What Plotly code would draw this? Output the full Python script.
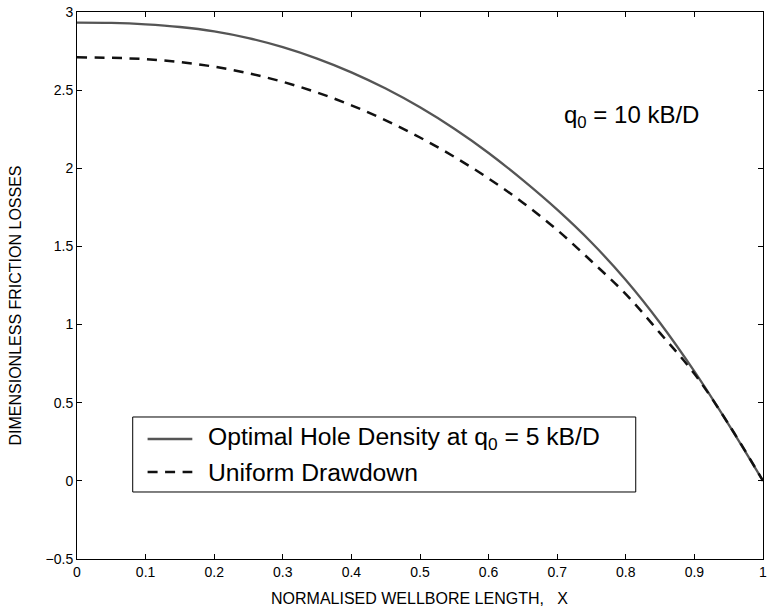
import plotly.graph_objects as go

# Normalised wellbore length
x_vals = [0, 0.05, 0.1, 0.15, 0.2, 0.25, 0.3, 0.35, 0.4, 0.45, 0.5,
          0.55, 0.6, 0.65, 0.7, 0.75, 0.8, 0.85, 0.9, 0.95, 1.0]
# Optimal hole density at q0 = 5 kB/D
optimal = [2.932, 2.930, 2.921, 2.904, 2.876, 2.833, 2.775, 2.702, 2.614, 2.510, 2.390,
           2.253, 2.098, 1.924, 1.735, 1.525, 1.285, 1.010, 0.700, 0.360, 0.0]
# Uniform drawdown
uniform = [2.710, 2.707, 2.698, 2.680, 2.650, 2.608, 2.553, 2.485, 2.403, 2.307, 2.197,
           2.073, 1.935, 1.780, 1.605, 1.405, 1.195, 0.945, 0.685, 0.362, 0.0]

series_names = ["Optimal Hole Density at q<sub>0</sub> = 5 kB/D", "Uniform Drawdown"]
x_ticks = [0, 0.1, 0.2, 0.3, 0.4, 0.5, 0.6, 0.7, 0.8, 0.9, 1]
y_ticks = [-0.5, 0, 0.5, 1, 1.5, 2, 2.5, 3]

FONT = "Liberation Sans, Arial, Helvetica, sans-serif"
SOLID = dict(color="#555555", width=2.3)
DASHED = dict(color="#111111", width=2.5, dash="10px,7.5px")

fig = go.Figure()
fig.add_trace(go.Scatter(x=x_vals, y=optimal, mode="lines", line_shape="spline",
                         name=series_names[0], line=SOLID))
fig.add_trace(go.Scatter(x=x_vals, y=uniform, mode="lines", line_shape="spline",
                         name=series_names[1], line=DASHED))

axis_common = dict(
    showgrid=False, zeroline=False, showline=True, linecolor="black", linewidth=1,
    mirror="ticks", ticks="inside", ticklen=5, tickcolor="black", tickwidth=1,
    tickfont=dict(family=FONT, size=14, color="black"),
    ticklabeloverflow="allow",
)
fig.update_xaxes(range=[0, 1], tickvals=x_ticks, **axis_common)
fig.update_yaxes(range=[-0.5, 3], tickvals=y_ticks, **axis_common)

fig.add_annotation(
    x=0.809, y=2.33, xref="x", yref="y", showarrow=False,
    text="q<sub>0</sub> = 10 kB/D",
    font=dict(family=FONT, size=24, color="black"),
)
fig.add_annotation(
    x=-0.0899, y=0.464, xref="paper", yref="paper", showarrow=False,
    xanchor="center", yanchor="middle",
    text="DIMENSIONLESS FRICTION LOSSES", textangle=-90,
    font=dict(family=FONT, size=16, color="black"),
)
fig.add_annotation(
    x=0.4986, y=-0.0713, xref="paper", yref="paper", showarrow=False,
    xanchor="center", yanchor="middle",
    text="NORMALISED WELLBORE LENGTH,\u00a0\u00a0\u00a0X",
    font=dict(family=FONT, size=16, color="black"),
)

# Legend box (drawn as layout decoration)
fig.add_shape(type="rect", xref="paper", yref="paper",
              x0=0.0812, x1=0.8145, y0=0.1225, y1=0.2596,
              line=dict(color="black", width=1), fillcolor="white", layer="above")
legend_rows = [0.2194, 0.1590]
for row_y, style, name in zip(legend_rows, [SOLID, DASHED], series_names):
    fig.add_shape(type="line", xref="paper", yref="paper",
                  x0=0.1029, x1=0.1681, y0=row_y, y1=row_y, line=style, layer="above")
    fig.add_annotation(x=0.1884, y=row_y, xref="paper", yref="paper",
                       xanchor="left", yanchor="middle", showarrow=False, text=name,
                       font=dict(family=FONT, size=24.7, color="black"))

fig.update_layout(
    width=771, height=611,
    margin=dict(l=77, r=4, t=12, b=52),
    paper_bgcolor="white", plot_bgcolor="white",
    showlegend=False,
)

fig.write_html("out.html", config={"displayModeBar": False},
               post_script="document.body.style.margin='0px';")
